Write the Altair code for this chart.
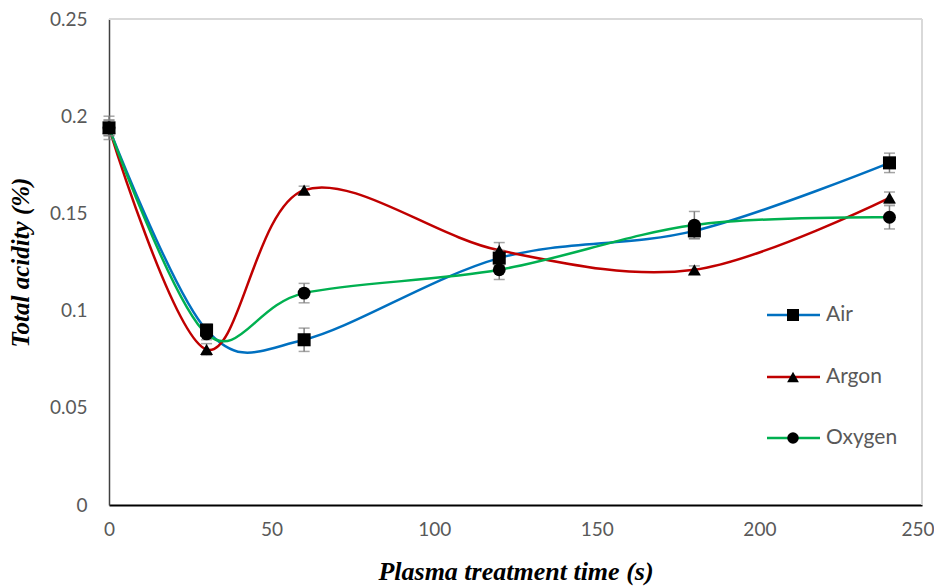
import altair as alt
import pandas as pd

# ---- data ----
times = [0, 30, 60, 120, 180, 240]
series_names = ["Air", "Argon", "Oxygen"]
air = [0.194, 0.090, 0.085, 0.127, 0.141, 0.176]
argon = [0.194, 0.080, 0.162, 0.131, 0.121, 0.158]
oxygen = [0.194, 0.088, 0.109, 0.121, 0.144, 0.148]
air_err = [0.006, 0.003, 0.006, 0.004, 0.004, 0.005]
argon_err = [0.004, 0.003, 0.002, 0.004, 0.002, 0.003]
oxygen_err = [0.004, 0.003, 0.005, 0.005, 0.007, 0.006]

colors = ["#0070C0", "#C00000", "#00B050"]
shapes = ["square", "triangle-up", "circle"]
sizes = [170, 165, 155]

rows = []
for name, vals, errs in zip(series_names, [air, argon, oxygen], [air_err, argon_err, oxygen_err]):
    for t, v, e in zip(times, vals, errs):
        rows.append({"series": name, "time": t, "acidity": v, "lo": v - e, "hi": v + e})
df = pd.DataFrame(rows)

W, H = 813, 486
GRAY = "#595959"

xs = alt.Scale(domain=[0, 250], nice=False, zero=True)
ys = alt.Scale(domain=[0, 0.25], nice=False)
col = alt.Color("series:N", scale=alt.Scale(domain=series_names, range=colors), legend=None)

x_enc = alt.X("time:Q", scale=xs,
              axis=alt.Axis(values=[0, 50, 100, 150, 200, 250], title="Plasma treatment time (s)",
                            grid=False, ticks=False, domainColor="#000000", domainWidth=2,
                            labelFlush=False,
                            labelAlign={"condition": {"test": "datum.value == 250", "value": "right"},
                                        "value": "center"},
                            labelOffset={"condition": {"test": "datum.value == 250", "value": 12},
                                         "value": 0},
                            labelColor=GRAY, labelFont="Lato", labelFontSize=19, labelPadding=15,
                            titleFont="Liberation Serif", titleFontSize=26, titleFontStyle="italic",
                            titleFontWeight="bold", titleColor="#000000", titlePadding=19))
y_enc = alt.Y("acidity:Q", scale=ys,
              axis=alt.Axis(values=[0, 0.05, 0.1, 0.15, 0.2, 0.25], format="~g", title="Total acidity (%)",
                            grid=False, ticks=False, domainColor="#404040", domainWidth=1.5,
                            labelFlush=False,
                            labelColor=GRAY, labelFont="Lato", labelFontSize=19, labelPadding=22,
                            titleFont="Liberation Serif", titleFontSize=25, titleFontStyle="italic",
                            titleFontWeight="bold", titleColor="#000000", titlePadding=16))

base = alt.Chart(df)

lines = base.mark_line(interpolate="cardinal", strokeWidth=2.5).encode(
    x=x_enc, y=y_enc, color=col, detail="series:N")

err_rule = base.mark_rule(color="#7F7F7F", strokeWidth=1.5).encode(
    x=alt.X("time:Q", scale=xs), y=alt.Y("lo:Q", scale=ys), y2="hi:Q")
cap_lo = base.mark_tick(color="#7F7F7F", orient="horizontal", size=11, thickness=1.5).encode(
    x=alt.X("time:Q", scale=xs), y=alt.Y("lo:Q", scale=ys))
cap_hi = base.mark_tick(color="#7F7F7F", orient="horizontal", size=11, thickness=1.5).encode(
    x=alt.X("time:Q", scale=xs), y=alt.Y("hi:Q", scale=ys))

points = base.mark_point(filled=True, color="#000000", opacity=1).encode(
    x=alt.X("time:Q", scale=xs), y=alt.Y("acidity:Q", scale=ys),
    shape=alt.Shape("series:N", scale=alt.Scale(domain=series_names, range=shapes), legend=None),
    size=alt.Size("series:N", scale=alt.Scale(domain=series_names, range=sizes), legend=None))

# frame on top / right in light gray
frame_top = alt.Chart(df).mark_rule(color="#D9D9D9", strokeWidth=2).encode(
    x=alt.value(0), x2=alt.value(W), y=alt.value(0))
frame_right = alt.Chart(df).mark_rule(color="#D9D9D9", strokeWidth=2).encode(
    x=alt.value(W), y=alt.value(0), y2=alt.value(H))

# manual legend (line + black marker + label)
legend_layers = []
leg_y = [296, 358, 419]
for name, c, shp, sz, ly in zip(series_names, colors, shapes, sizes, leg_y):
    ldf = pd.DataFrame({"series": [name]})
    lc = alt.Chart(ldf)
    legend_layers.append(lc.mark_rule(color=c, strokeWidth=2.5).encode(
        x=alt.value(658), x2=alt.value(711), y=alt.value(ly)))
    legend_layers.append(lc.mark_point(filled=True, color="#000000", opacity=1, shape=shp, size=sz * 0.85).encode(
        x=alt.value(684), y=alt.value(ly)))
    legend_layers.append(lc.mark_text(align="left", baseline="middle", font="Lato", fontSize=21,
                                      color=GRAY).encode(
        x=alt.value(717), y=alt.value(ly), text="series:N"))

chart = alt.layer(lines, err_rule, cap_lo, cap_hi, points, frame_top, frame_right, *legend_layers).properties(
    width=W, height=H,
    autosize=alt.AutoSizeParams(type="none"),
    padding={"left": 101, "top": 11, "right": 12, "bottom": 83},
).configure_view(stroke=None).configure(background="white")

chart.save("out.html", embed_options={"renderer": "svg", "actions": False})
